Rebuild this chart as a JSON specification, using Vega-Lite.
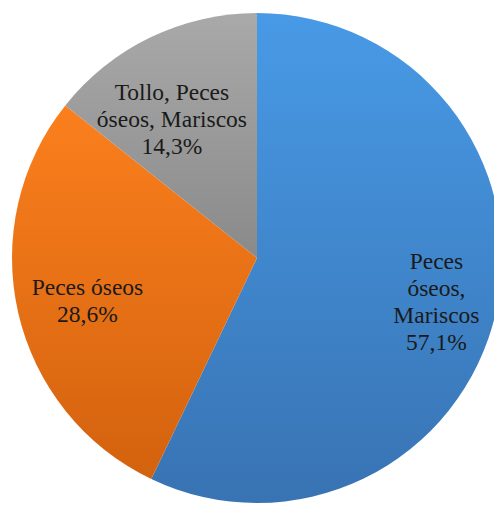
{
  "$schema": "https://vega.github.io/schema/vega-lite/v6.json",
  "width": 474,
  "height": 500,
  "padding": {"left": 20, "top": 8, "right": 0, "bottom": 0},
  "autosize": {"type": "none"},
  "background": "white",
  "config": {"view": {"stroke": null}},
  "data": {
    "values": [
      {"cat": "Peces óseos, Mariscos", "pct": 57.1, "label": ["Peces", "óseos,", "Mariscos", "57,1%"]},
      {"cat": "Peces óseos", "pct": 28.6, "label": ["Peces óseos", "28,6%"]},
      {"cat": "Tollo, Peces óseos, Mariscos", "pct": 14.3, "label": ["Tollo, Peces", "óseos, Mariscos", "14,3%"]}
    ]
  },
  "encoding": {
    "theta": {"field": "pct", "type": "quantitative", "stack": true, "scale": {"domain": [0, 100]}},
    "order": {"field": "pct", "type": "quantitative", "sort": "descending"},
    "detail": {"field": "cat", "type": "nominal"}
  },
  "layer": [
    {
      "mark": {"type": "arc", "radius": 245},
      "encoding": {
        "color": {
          "condition": [
            {"test": "datum.cat === 'Peces óseos'", "value": {"gradient": "linear", "x1": 0, "y1": 0, "x2": 0, "y2": 1, "stops": [{"offset": 0, "color": "#fb7f1d"}, {"offset": 1, "color": "#d3620e"}]}},
            {"test": "datum.cat === 'Tollo, Peces óseos, Mariscos'", "value": {"gradient": "linear", "x1": 0, "y1": 0, "x2": 0, "y2": 1, "stops": [{"offset": 0, "color": "#a9a9a9"}, {"offset": 1, "color": "#8a8a8a"}]}}
          ],
          "value": {"gradient": "linear", "x1": 0, "y1": 0, "x2": 0, "y2": 1, "stops": [{"offset": 0, "color": "#489ae6"}, {"offset": 1, "color": "#3873b3"}]}
        }
      }
    },
    {
      "mark": {"type": "text", "radius": 184, "dy": -37, "font": "Liberation Serif", "fontSize": 23.5, "lineHeight": 27, "align": "center", "baseline": "middle", "color": "#1a1a1a"},
      "encoding": {
        "text": {"field": "label"},
        "opacity": {"condition": {"test": "datum.cat === 'Peces óseos, Mariscos'", "value": 1}, "value": 0}
      }
    },
    {
      "mark": {"type": "text", "radius": 174, "dy": -9, "font": "Liberation Serif", "fontSize": 23.5, "lineHeight": 27, "align": "center", "baseline": "middle", "color": "#1a1a1a"},
      "encoding": {
        "text": {"field": "label"},
        "opacity": {"condition": {"test": "datum.cat === 'Peces óseos'", "value": 1}, "value": 0}
      }
    },
    {
      "mark": {"type": "text", "radius": 163, "thetaOffset": -0.1, "dy": -26, "font": "Liberation Serif", "fontSize": 23.5, "lineHeight": 27, "align": "center", "baseline": "middle", "color": "#1a1a1a"},
      "encoding": {
        "text": {"field": "label"},
        "opacity": {"condition": {"test": "datum.cat === 'Tollo, Peces óseos, Mariscos'", "value": 1}, "value": 0}
      }
    }
  ]
}
